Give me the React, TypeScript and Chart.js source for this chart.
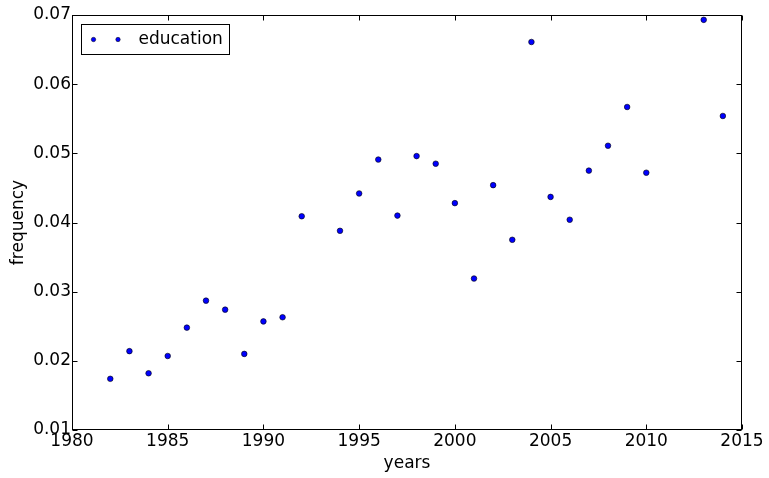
import React, { useEffect, useRef } from "react";
import { Chart, registerables } from "chart.js";

Chart.register(...registerables);

const seriesLabel = "education";
const years = [
  1982, 1983, 1984, 1985, 1986, 1987, 1988, 1989, 1990, 1991, 1992, 1994,
  1995, 1996, 1997, 1998, 1999, 2000, 2001, 2002, 2003, 2004, 2005, 2006,
  2007, 2008, 2009, 2010, 2013, 2014,
];
const frequency = [
  0.0174, 0.0214, 0.0182, 0.0207, 0.0248, 0.0287, 0.0274, 0.021, 0.0257,
  0.0263, 0.0409, 0.0388, 0.0442, 0.0491, 0.041, 0.0496, 0.0485, 0.0428,
  0.0319, 0.0454, 0.0375, 0.0661, 0.0437, 0.0404, 0.0475, 0.0511, 0.0567,
  0.0472, 0.0693, 0.0554,
];
const xTitle = "years";
const yTitle = "frequency";
const xMin = 1980;
const xMax = 2015;
const xStep = 5;
const yMin = 0.01;
const yMax = 0.07;
const yStep = 0.01;

const FONT = "'DejaVu Sans', sans-serif";
const FS = 17;

const framePlugin = {
  id: "mplFrame",
  afterDraw(chart: any) {
    const { ctx, chartArea } = chart;
    const { left, right, top, bottom } = chartArea;
    const xs = chart.scales.x;
    const ys = chart.scales.y;
    ctx.save();
    ctx.strokeStyle = "#000";
    ctx.lineWidth = 1;
    const L = Math.round(left) + 0.5;
    const R = Math.round(right) - 0.5;
    const T = Math.round(top) + 0.5;
    const B = Math.round(bottom) - 0.5;
    ctx.strokeRect(L, T, R - L, B - T);
    const tl = 5;
    ctx.beginPath();
    xs.ticks.forEach((t: any) => {
      const px = Math.round(xs.getPixelForValue(t.value)) + 0.5;
      ctx.moveTo(px, B);
      ctx.lineTo(px, B - tl);
      ctx.moveTo(px, T);
      ctx.lineTo(px, T + tl);
    });
    ys.ticks.forEach((t: any) => {
      const py = Math.round(ys.getPixelForValue(t.value)) + 0.5;
      ctx.moveTo(L, py);
      ctx.lineTo(L + tl, py);
      ctx.moveTo(R, py);
      ctx.lineTo(R - tl, py);
    });
    ctx.stroke();

    // legend
    const ds = chart.data.datasets[0];
    const bx = L + 9;
    const by = T + 9;
    const bw = 148;
    const bh = 30;
    ctx.fillStyle = "#fff";
    ctx.fillRect(bx, by, bw, bh);
    ctx.strokeRect(bx, by, bw, bh);
    const cy = by + bh / 2;
    [bx + 12, bx + 36.5].forEach((mx) => {
      ctx.beginPath();
      ctx.arc(mx, cy, 2.2, 0, Math.PI * 2);
      ctx.fillStyle = ds.backgroundColor;
      ctx.fill();
      ctx.lineWidth = 0.5;
      ctx.strokeStyle = "#000";
      ctx.stroke();
    });
    ctx.fillStyle = "#000";
    ctx.font = `${FS}px ${FONT}`;
    ctx.textBaseline = "middle";
    ctx.textAlign = "left";
    ctx.fillText(ds.label, bx + 57, cy);
    ctx.restore();
  },
};

export default function App() {
  const ref = useRef<HTMLCanvasElement | null>(null);
  useEffect(() => {
    if (!ref.current) return;
    const chart = new Chart(ref.current, {
      type: "scatter",
      data: {
        datasets: [
          {
            label: seriesLabel,
            data: years.map((yr, i) => ({ x: yr, y: frequency[i] })),
            backgroundColor: "#0000ff",
            borderColor: "#000000",
            borderWidth: 0.6,
            pointRadius: 2.8,
            pointHoverRadius: 2.8,
          },
        ],
      },
      plugins: [framePlugin],
      options: {
        animation: false,
        responsive: false,
        devicePixelRatio: 1,
        events: [],
        layout: { padding: { left: 0, right: 27, top: 15, bottom: 0 } },
        plugins: {
          legend: { display: false },
          tooltip: { enabled: false },
        },
        scales: {
          x: {
            type: "linear",
            min: xMin,
            max: xMax,
            afterFit: (s: any) => {
              s.height = 48;
            },
            ticks: {
              stepSize: xStep,
              color: "#000",
              padding: 1,
              maxRotation: 0,
              font: { family: FONT, size: FS },
              callback: (v: any) => String(v),
            },
            grid: { display: false, drawTicks: false },
            border: { display: false },
            title: {
              display: true,
              text: xTitle,
              color: "#000",
              font: { family: FONT, size: FS },
              padding: { top: 0, bottom: 4 },
            },
          },
          y: {
            type: "linear",
            min: yMin,
            max: yMax,
            afterFit: (s: any) => {
              s.width = 72;
            },
            ticks: {
              stepSize: yStep,
              color: "#000",
              padding: 1,
              font: { family: FONT, size: FS },
              callback: (v: any) => Number(v).toFixed(2),
            },
            grid: { display: false, drawTicks: false },
            border: { display: false },
            title: {
              display: true,
              text: yTitle,
              color: "#000",
              font: { family: FONT, size: FS },
              padding: { top: 8, bottom: 0 },
            },
          },
        },
      },
    });
    return () => chart.destroy();
  }, []);
  return (
    <div style={{ position: "fixed", left: 0, top: 0, width: 769, height: 478, background: "#fff" }}>
      <canvas ref={ref} width={769} height={478} style={{ width: 769, height: 478, display: "block" }} />
    </div>
  );
}
